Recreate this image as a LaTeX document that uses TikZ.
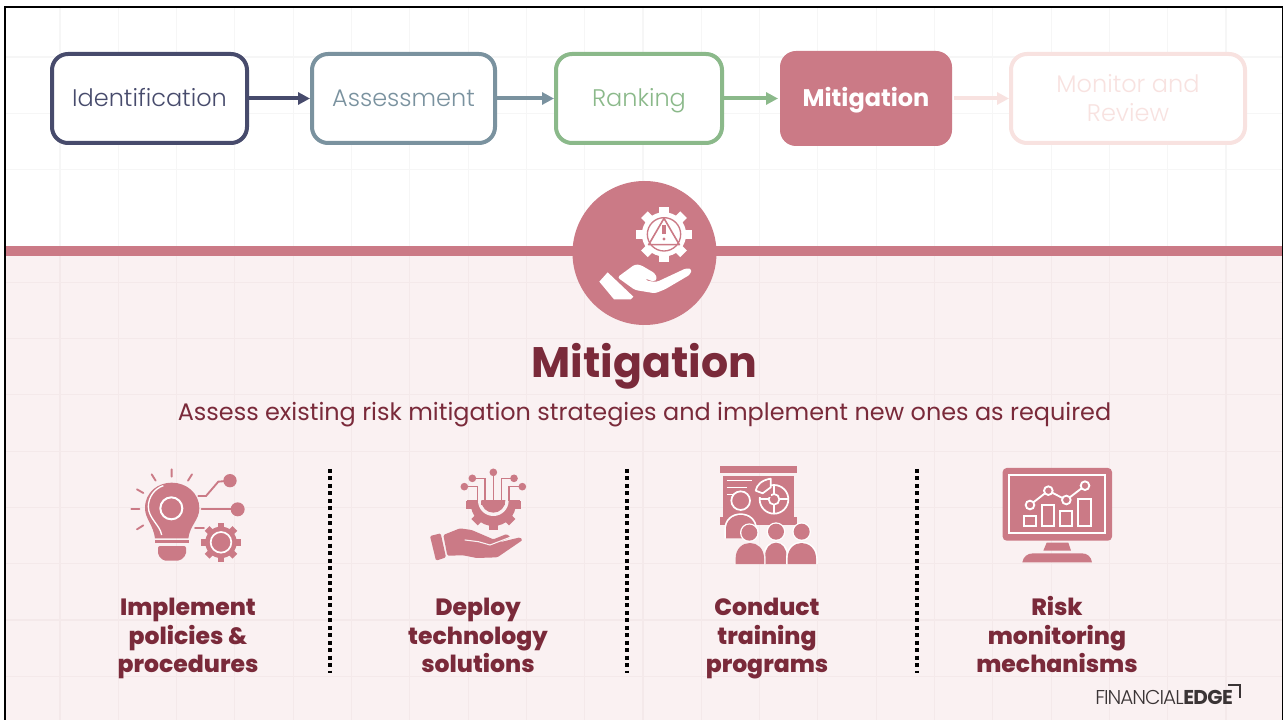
\documentclass[tikz,border=0pt]{standalone}
\usepackage{fontspec}
\setmainfont{Poppins}
\newfontfamily\lightfont{Poppins Light}
\newfontfamily\heavyfont{Poppins ExtraBold}
\usetikzlibrary{arrows.meta}
\definecolor{navy}{HTML}{474B6C}
\definecolor{slate}{HTML}{7A929F}
\definecolor{sage}{HTML}{8BB98A}
\definecolor{rose}{HTML}{CB7A86}
\definecolor{pale}{HTML}{F8E2E0}
\definecolor{maroon}{HTML}{7A2A3A}
\definecolor{blush}{HTML}{FAF1F2}
\definecolor{gridA}{HTML}{F6F6F6}
\definecolor{gridB}{HTML}{F4E9EA}
\definecolor{logo}{HTML}{3A3435}
\newcommand{\mycog}[5]{%
  \fill[#5] (#1,#2) circle ({#3*0.8});
  \foreach \k in {1,...,#4}{
    \fill[#5,rotate around={\k*360/#4:(#1,#2)}] ({#1-#3*0.17},{#2-#3}) rectangle ({#1+#3*0.17},{#2});
  }%
}
\tikzset{
  stepbox/.style={rounded corners=12pt,line width=3pt,fill=white,minimum height=66.75pt,align=center,font=\fontsize{18}{21.8}\selectfont\lightfont,inner sep=0pt,text height=14.5pt,text depth=3.2pt},
  flow/.style={line width=3pt,-{Triangle[length=9pt,width=9pt]}},
  sep/.style={line width=3pt,dash pattern=on 3pt off 2.6pt,black},
  labeltext/.style={align=center,font=\fontsize{17.65}{21.5}\selectfont\heavyfont,text=maroon,inner sep=0pt,text height=14pt,text depth=4pt},
  zoomed/.style={x=.25pt,y=-.25pt},
}
\begin{document}
\begin{tikzpicture}[x=.75pt,y=-.75pt]
\useasboundingbox (0,0) rectangle (1283,720);
\fill[white] (0,0) rectangle (1283,720);
\fill[blush] (5,256) rectangle (1283,720);
% grid
\foreach \k in {0,...,20}{
  \draw[gridA,line width=.8pt] ({60+58.3*\k},8) -- ({60+58.3*\k},246);
  \draw[gridB,line width=.8pt] ({60+58.3*\k},256) -- ({60+58.3*\k},720);
}
\foreach \k in {0,1,2}{\draw[gridA,line width=.8pt] (5,{57+56.3*\k}) -- (1283,{57+56.3*\k});}
\foreach \k in {4,...,11}{\draw[gridB,line width=.8pt] (5,{57+56.3*\k}) -- (1283,{57+56.3*\k});}
% frame
\fill[rose] (6,246) rectangle (1283,256);
\fill[black] (4,6) rectangle (1283,8.5);
\fill[black] (4,6) rectangle (6.2,720);
\fill[black] (1281.8,6) rectangle (1283,720);
% process
\node[stepbox,draw=navy,text=navy,minimum width=146.25pt] (ident) at (149.5,98.5) {Identification};
\node[stepbox,draw=slate,text=slate,minimum width=137.25pt] (assess) at (403.5,98.5) {Assessment};
\node[stepbox,draw=sage,text=sage,minimum width=124.5pt] (rank) at (639,98.5) {Ranking};
\node[stepbox,fill=rose,text=white,minimum width=129pt,minimum height=71.25pt,font=\fontsize{18}{21.8}\selectfont\bfseries] (mitig) at (866,98.5) {Mitigation};
\node[stepbox,draw=pale,text=pale,minimum width=175.5pt,text height=36pt,text depth=.75pt] (monitor) at (1128,98.5) {Monitor and\\Review};
\draw[flow,navy] (ident) -- (assess);
\draw[flow,slate] (assess) -- (rank);
\draw[flow,sage] (rank) -- (mitig);
\draw[flow,pale] (mitig) -- (monitor);
% hero
\fill[rose] (644.5,253) circle (72);
\begin{scope}[shift={(540,170)},zoomed]
  \mycog{372}{193}{83}{8}{white}
  \draw[rose,line width=1pt] (372,193) circle (50);
  \draw[rose,line width=1.2pt,line join=round] (372,145) -- (418,224) -- (326,224) -- cycle;
  \draw[rose,line width=3pt] (372,165) -- (372,193);
  \fill[rose] (372,207) circle (5);
  \fill[white,line join=round] (178,335) -- (203,307) -- (280,380) -- (272,388) -- (222,388) -- cycle;
  \fill[white,rounded corners=2pt] (232,322) -- (285,283) -- (302,285) -- (345,310) -- (352,328) -- (340,335) -- (315,325) -- (318,332) -- (350,336) -- (440,294) -- (456,298) -- (450,314) -- (375,358) -- (345,370) -- (285,360) -- cycle;
\end{scope}
% titles
\node[font=\fontsize{32}{36}\selectfont\bfseries,text=maroon,inner sep=0pt] (title) at (644.5,366) {Mitigation};
\node[font=\fontsize{17.95}{22}\selectfont,text=maroon,inner sep=0pt] (sub) at (644.5,415) {Assess existing risk mitigation strategies and implement new ones as required};
% separators
\coordinate (s1a) at (330,469); \coordinate (s1b) at (330,673);
\coordinate (s2a) at (627,469); \coordinate (s2b) at (627,673);
\coordinate (s3a) at (916.5,469); \coordinate (s3b) at (916.5,673);
\draw[sep] (s1a) -- (s1b);
\draw[sep] (s2a) -- (s2b);
\draw[sep] (s3a) -- (s3b);
% icon 1 bulb
\begin{scope}[shift={(110,460)},zoomed]
  \fill[rose] (135,235) .. controls (130,195) and (105,175) .. (105,145) .. controls (105,95) and (145,68) .. (185,68) .. controls (230,68) and (268,100) .. (268,145) .. controls (268,180) and (240,195) .. (235,235) -- cycle;
  \draw[white,line width=1pt] (155,225) .. controls (150,195) and (115,175) .. (115,140) .. controls (115,110) and (135,85) .. (160,77);
  \draw[white,line width=1.5pt,fill=rose] (184,145) circle (33);
  \fill[rose] (135,240) rectangle (238,250);
  \fill[rose,rounded corners=1.5pt] (144,258) -- (228,258) -- (228,285) -- (210,302) -- (160,302) -- (144,285) -- cycle;
  \draw[rose,line width=1.4pt,line cap=round]
    (185,28) -- (185,50) (125,43) -- (137,62) (246,43) -- (234,62)
    (81,88) -- (100,99) (64,147) -- (88,147) (81,208) -- (100,196);
  \draw[rose,line width=1.4pt,line cap=round] (265,108) -- (288,108) -- (325,65) -- (360,62);
  \fill[rose] (360,62) circle (20);
  \draw[rose,line width=1.4pt,line cap=round] (275,148) -- (380,148);
  \fill[rose] (383,148) circle (21);
  \draw[rose,line width=1.4pt,line cap=round] (255,204) -- (282,204);
  \mycog{333}{247}{59}{8}{rose}
  \draw[white,line width=1.3pt] (333,247) circle (31);
\end{scope}
% icon 2 tech hand
\begin{scope}[shift={(410,460)},zoomed]
  \begin{scope}
    \clip (150,122) rectangle (350,220);
    \mycog{250}{130}{80}{8}{rose}
    \fill[rose] (250,130) circle (68);
  \end{scope}
  \fill[rose] (168,122) rectangle (332,146);
  \begin{scope}
    \clip (150,122) rectangle (350,220);
    \fill[blush] (250,122) circle (46);
    \fill[rose] (250,122) circle (36);
  \end{scope}
  \fill[rose] (214,122) rectangle (286,136);
  \draw[rose,line width=1pt]
    (250,37) -- (250,122)
    (187,55) -- (225,55) -- (225,122)
    (312,55) -- (275,55) -- (275,122)
    (163,80) -- (203,80) -- (203,122)
    (337,80) -- (297,80) -- (297,122);
  \fill[rose] (250,37) circle (11.5) (187,55) circle (11.5) (312,55) circle (11.5) (163,80) circle (11.5) (337,80) circle (11.5);
  \fill[rose,rounded corners=1pt] (60,228) -- (92,220) -- (108,292) -- (78,302) -- cycle;
  \fill[rose,rounded corners=1pt] (100,225) -- (150,205) -- (185,210) -- (250,238) -- (290,222) -- (302,232) -- (265,248) -- (330,232) -- (338,240) -- (262,292) -- (200,294) -- (160,286) -- (112,287) -- cycle;
  \draw[blush,line width=.8pt,line cap=round] (165,240) -- (205,245) -- (240,255) -- (300,232);
\end{scope}
% icon 3 training
\begin{scope}[shift={(700,460)},zoomed]
  \fill[rose] (60,18) rectangle (290,40);
  \fill[rose] (68,48) rectangle (282,170);
  \fill[rose] (60,172) rectangle (290,195);
  \draw[white,line width=1.2pt] (80,62) -- (155,62) (80,83) -- (140,83) (80,104) -- (105,104);
  \draw[white,line width=1.3pt,fill=rose] (122,122) circle (28);
  % pie
  \draw[white,line width=1.3pt,line join=round] (222,118) circle (43);
  \draw[white,line width=1.3pt] (222,118) circle (16);
  \draw[white,line width=1.3pt] (222,102) -- (222,75) (238,118) -- (265,118) (222,134) -- (222,161) (206,118) -- (179,118);
  \fill[rose] (160,56) rectangle (212,112);
  \draw[white,line width=1.3pt,line join=round] (212,56) -- (212,82) -- (188,100) -- (167,92) .. controls (170,75) and (185,60) .. (212,56) -- cycle;
  \fill[white] (73,235) -- (73,207) .. controls (73,178) and (95,160) .. (122,160) .. controls (149,160) and (171,178) .. (171,207) -- (171,235) -- cycle;
  \fill[rose] (78,235) -- (78,207) .. controls (78,182) and (98,165) .. (122,165) .. controls (146,165) and (166,182) .. (166,207) -- (166,235) -- cycle;
  \fill[white] (148,218) circle (28);
  \fill[rose] (148,218) circle (24);
  \fill[white] (228,215) circle (28);
  \fill[rose] (228,215) circle (24);
  \fill[white] (305,215) circle (28);
  \fill[rose] (305,215) circle (24);
  \fill[white] (190,312) -- (190,290) .. controls (190,260) and (208,245) .. (228,245) .. controls (248,245) and (265,260) .. (265,290) -- (265,312) -- cycle;
  \fill[rose] (195,312) -- (195,290) .. controls (195,265) and (210,248) .. (228,248) .. controls (246,248) and (260,265) .. (260,290) -- (260,312) -- cycle;
  \fill[blush] (102,312) -- (102,295) .. controls (102,262) and (125,245) .. (150,245) .. controls (175,245) and (197,262) .. (197,295) -- (197,312) -- cycle;
  \fill[rose] (107,312) -- (107,295) .. controls (107,265) and (128,249) .. (150,249) .. controls (172,249) and (192,265) .. (192,295) -- (192,312) -- cycle;
  \fill[white] (258,312) -- (258,295) .. controls (258,262) and (282,245) .. (305,245) .. controls (328,245) and (353,262) .. (353,295) -- (353,312) -- cycle;
  \fill[rose] (263,312) -- (263,295) .. controls (263,265) and (285,249) .. (305,249) .. controls (325,249) and (348,265) .. (348,295) -- (348,312) -- cycle;
\end{scope}
% icon 4 monitor
\begin{scope}[shift={(990,460)},zoomed]
  \fill[rose,rounded corners=3pt] (38,24) rectangle (366,242);
  \draw[white,line width=1.4pt] (58,44) rectangle (346,218);
  \fill[rose] (170,248) -- (235,248) -- (243,272) -- (160,272) -- cycle;
  \fill[rose] (97,307) .. controls (100,290) and (112,280) .. (130,280) -- (275,280) .. controls (293,280) and (303,290) .. (306,307) -- cycle;
  \draw[white,line width=1.4pt] (102,168) rectangle (138,198) (157,135) rectangle (193,198) (210,153) rectangle (247,198) (265,118) rectangle (302,198);
  \draw[white,line width=1.4pt] (120,135) -- (175,92) -- (229,120) -- (285,77);
  \draw[white,line width=1.4pt,fill=rose] (120,135) circle (13) (175,92) circle (13) (229,120) circle (13) (285,77) circle (13);
\end{scope}
% labels
\node[labeltext] (l1) at (188,666.2) {Implement\\policies \&\\procedures};
\node[labeltext] (l2) at (478,666.2) {Deploy\\technology\\solutions};
\node[labeltext] (l3) at (767,666.2) {Conduct\\training\\programs};
\node[labeltext] (l4) at (1057,666.2) {Risk\\monitoring\\mechanisms};
% logo
\node[anchor=west,inner sep=0pt,text=logo] (fe) at (1095,697) {\fontsize{15}{16}\selectfont\lightfont\addfontfeature{LetterSpace=-5}FINANCIAL\bfseries\hspace{-.3pt}{\fontspec{Poppins}[LetterSpace=-3]\bfseries EDGE}};
\draw[logo,line width=1.3pt] (1228,685) -- (1240,685) -- (1240,698);
\end{tikzpicture}
\end{document}
